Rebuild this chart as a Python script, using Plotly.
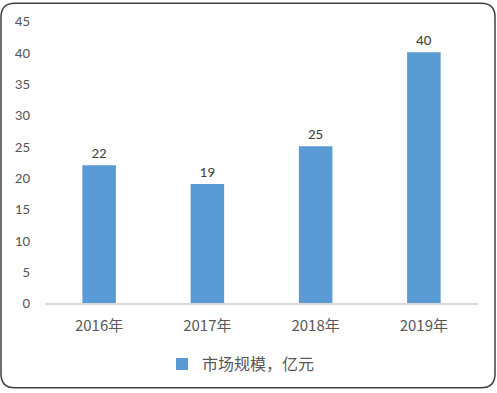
import plotly.graph_objects as go

categories = ["2016年", "2017年", "2018年", "2019年"]
values = [22, 19, 25, 40]
series_name = "市场规模，亿元"
y_ticks = [0, 5, 10, 15, 20, 25, 30, 35, 40, 45]

W, H = 497, 393
L, R, T, B = 45, 19, 19, 88
pw, ph = W - L - R, H - T - B

def px(x):
    return (x - L) / pw

def py(y):
    return (H - B - y) / ph

font = "Calibri, Carlito, 'Noto Sans CJK SC', sans-serif"
cjk = "'Noto Sans CJK SC', sans-serif"
txt = "#595959"

fig = go.Figure()
fig.add_trace(go.Bar(
    x=categories, y=values, name=series_name,
    marker=dict(color="#5B9BD5", line=dict(width=0)),
    width=0.31,
    text=values, textposition="outside",
    textfont=dict(size=15, color="#404040", family=font),
    cliponaxis=False,
))

# rounded border path in paper coords
x0, y0, x1, y1, r = 1, 1, 495, 391, 14
def P(x, y):
    return f"{px(x):.5f},{py(y):.5f}"
path = (f"M {P(x0 + r, y0)} L {P(x1 - r, y0)} Q {P(x1, y0)} {P(x1, y0 + r)} "
        f"L {P(x1, y1 - r)} Q {P(x1, y1)} {P(x1 - r, y1)} "
        f"L {P(x0 + r, y1)} Q {P(x0, y1)} {P(x0, y1 - r)} "
        f"L {P(x0, y0 + r)} Q {P(x0, y0)} {P(x0 + r, y0)} Z")

fig.update_layout(
    width=W, height=H,
    margin=dict(l=L, r=R, t=T, b=B),
    paper_bgcolor="white", plot_bgcolor="white",
    font=dict(family=font, color=txt, size=14),
    showlegend=True,
    legend=dict(orientation="h", x=px(162), xanchor="left", y=py(367), yanchor="middle",
                font=dict(size=16, color=txt, family=cjk),
                itemwidth=30),
    bargap=0.69,
    xaxis=dict(showgrid=False, showline=True, linecolor="#D9D9D9", linewidth=1.5,
               ticks="", ticklabelstandoff=8,
               tickfont=dict(size=15, color=txt, family=cjk),
               fixedrange=True),
    yaxis=dict(range=[0, 45], tickvals=y_ticks, showgrid=False, zeroline=False,
               showline=False, ticks="", ticklabelstandoff=14,
               tickfont=dict(size=15, color=txt), fixedrange=True),
    shapes=[dict(type="path", xref="paper", yref="paper", path=path,
                 line=dict(color="#404040", width=1.5), fillcolor="rgba(0,0,0,0)",
                 layer="above")],
)

fig.write_html("out.html", config={"displayModeBar": False},
               post_script="document.body.style.margin='0';")
